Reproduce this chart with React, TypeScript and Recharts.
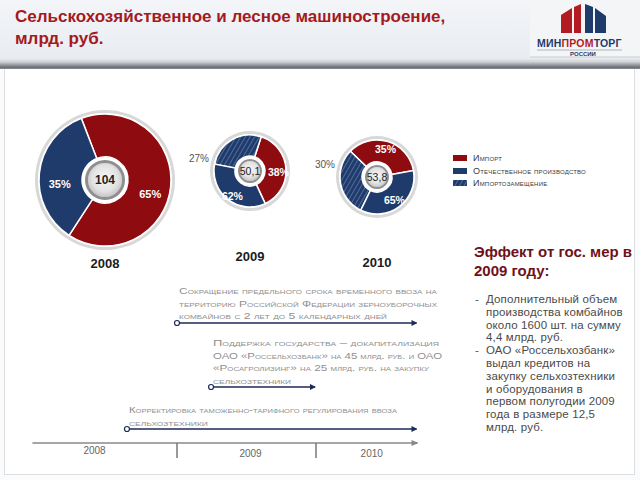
import React from "react";
import { PieChart, Pie, Cell } from "recharts";

// доли в процентах по годам
const years = ["2008", "2009", "2010"];
const importShare = [65, 38, 35];
const domesticShare = [35, 62, 65];
const substitutionShare = [0, 27, 30];
const totals = ["104", "50,1", "53,8"];

const legendItems = ["Импорт", "Отечественное производство", "Импортозамещение"];

// таймлайн мер господдержки
const timelineYears = [2008, 2009, 2010];
const timelineRange = [2007.96, 2010.73];
const measureStart = [2009.0, 2009.245, 2008.64];
const measureEnd = [2010.73, 2010.0, 2010.73];
const measureText = [
  [
    "Сокращение предельного срока временного ввоза на",
    "территорию Российской Федерации зерноуборочных",
    "комбайнов с 2 лет до 5 календарных дней",
  ],
  [
    "Поддержка государства – докапитализация",
    "ОАО «Россельхозбанк» на 45 млрд. руб. и ОАО",
    "«Росагролизинг» на 25 млрд. руб. на закупку",
    "сельхозтехники",
  ],
  [
    "Корректировка таможенно-тарифного регулирования ввоза",
    "сельхозтехники",
  ],
];

const effectBullets = [
  ["Дополнительный объем", "производства комбайнов", "около 1600 шт. на сумму", "4,4 млрд. руб."],
  [
    "ОАО «Россельхозбанк»",
    "выдал кредитов на",
    "закупку сельхозтехники",
    "и оборудования в",
    "первом полугодии 2009",
    "года в размере 12,5",
    "млрд. руб.",
  ],
];

const RED = "#8e0b0f";
const NAVY = "#1f3b6b";
const FONT = "'Liberation Sans', Arial, sans-serif";
const ring = [{ value: 1 }];

const donuts = [
  { left: 30, top: 105, w: 150, h: 150, r: 66, hub: 20, start: -123, fs: 11, dy: 9, push: 1, yearTop: 256 },
  { left: 180, top: 121, w: 140, h: 100, r: 36, hub: 12, start: -65, fs: 10.5, dy: 3, push: 3, yearTop: 249 },
  { left: 307, top: 127, w: 140, h: 100, r: 37, hub: 12, start: 10, fs: 10.5, dy: 0, push: 3, yearTop: 255 },
];

const fills: Record<string, string> = { imp: RED, dom: NAVY, sub: "url(#hatch)" };

function sliceData(i: number) {
  return [
    { kind: "imp", value: importShare[i], label: `${importShare[i]}%` },
    { kind: "sub", value: substitutionShare[i], label: `${substitutionShare[i]}%` },
    { kind: "dom", value: domesticShare[i] - substitutionShare[i], label: `${domesticShare[i]}%` },
  ].filter((d) => d.value > 0);
}

const sliceLabel = (fs: number, dy: number, push: number) => (props: any) => {
  const { cx, cy, midAngle, innerRadius, outerRadius } = props;
  const entry = props.payload ?? props;
  if (entry.kind === "sub") {
    return (
      <text x={cx - outerRadius - 5} y={cy - 13} textAnchor="end" dominantBaseline="central"
        fontSize={10} fill="#555" fontFamily={FONT}>
        {entry.label}
      </text>
    );
  }
  const rad = Math.PI / 180;
  const r = (innerRadius + outerRadius) / 2 + push;
  const x = cx + r * Math.cos(-midAngle * rad);
  const y = cy + r * Math.sin(-midAngle * rad) + dy;
  return (
    <text x={x} y={y} textAnchor="middle" dominantBaseline="central" fontSize={fs}
      fontWeight={700} fill="#fff" fontFamily={FONT}>
      {entry.label}
    </text>
  );
};

const hubLabel = (text: string, fs: number, bold: boolean) => (props: any) => (
  <text x={props.cx} y={props.cy} textAnchor="middle" dominantBaseline="central"
    fontSize={fs} fontWeight={bold ? 700 : 400} fill="#222" fontFamily={FONT}>
    {text}
  </text>
);

function Donut({ i }: { i: number }) {
  const d = donuts[i];
  const inner = d.hub + 3;
  const edge = i === 0 ? 3 : 2;
  const slices = sliceData(i);
  return (
    <div style={{ position: "absolute", left: d.left, top: d.top }}>
      <PieChart width={d.w} height={d.h} margin={{ top: 0, right: 0, bottom: 0, left: 0 }}>
        <Pie data={ring} dataKey="value" cx="50%" cy="50%" innerRadius={d.r + 1} outerRadius={d.r + 4}
          fill="#d8d8d8" stroke="none" isAnimationActive={false} />
        <Pie data={slices} dataKey="value" cx="50%" cy="50%" innerRadius={inner} outerRadius={d.r}
          startAngle={d.start} endAngle={d.start + 360} stroke="#fff" strokeWidth={1.5}
          labelLine={false} label={sliceLabel(d.fs, d.dy, d.push)} isAnimationActive={false}>
          {slices.map((s) => (
            <Cell key={s.kind} fill={fills[s.kind]} />
          ))}
        </Pie>
        <Pie data={ring} dataKey="value" cx="50%" cy="50%" innerRadius={0} outerRadius={d.hub - edge}
          fill="url(#hubGrad)" stroke="none"
          labelLine={false} label={hubLabel(totals[i], i === 0 ? 12 : 10.5, i === 0)} isAnimationActive={false} />
        <Pie data={ring} dataKey="value" cx="50%" cy="50%" innerRadius={d.hub - edge} outerRadius={d.hub}
          fill="#8f8f8f" stroke="none" isAnimationActive={false} />
      </PieChart>
      <div style={{ position: "absolute", left: 0, width: d.w, top: d.yearTop - d.top, textAlign: "center",
        fontSize: 13, fontWeight: 700, color: "#1c1c1c", fontFamily: FONT }}>
        {years[i]}
      </div>
    </div>
  );
}

// x на таймлайне
const tx = (y: number) => 177 + (y - 2009) * 139;

function Timeline() {
  const navy = "#1d2b57";
  const blockY = [291, 343, 410];
  const arrowY = [323, 387, 429];
  const widths = [
    [258, 258, 208],
    [226, 229, 216, 78],
    [268, 79],
  ];
  const yearShift = [-13, 4, 5];
  const axisY = 443;
  return (
    <svg width={640} height={480} style={{ position: "absolute", left: 0, top: 0 }}>
      <defs>
        <marker id="arrN" markerWidth="6" markerHeight="6" refX="5" refY="3" orient="auto" markerUnits="userSpaceOnUse">
          <path d="M0,0 L6,3 L0,6 z" fill={navy} />
        </marker>
        <marker id="arrG" markerWidth="7" markerHeight="6" refX="6" refY="3" orient="auto" markerUnits="userSpaceOnUse">
          <path d="M0,0 L7,3 L0,6 z" fill="#888" />
        </marker>
      </defs>
      {measureText.map((lines, m) => (
        <g key={m}>
          {lines.map((ln, k) => (
            <text key={k} x={tx(measureStart[m]) + 2} y={blockY[m] + k * 12.5 + 3} fontSize={9}
              fill="#8f8f8f" fontFamily={FONT} style={{ fontVariant: "small-caps" }}
              textLength={widths[m][k]} lengthAdjust="spacingAndGlyphs">
              {ln}
            </text>
          ))}
          <line x1={tx(measureStart[m])} x2={tx(measureEnd[m]) - 1} y1={arrowY[m]} y2={arrowY[m]}
            stroke={navy} strokeWidth={1.6} markerEnd="url(#arrN)" />
          <circle cx={tx(measureStart[m])} cy={arrowY[m]} r={2.5} fill="#fff" stroke={navy} strokeWidth={1.2} />
        </g>
      ))}
      <line x1={tx(timelineRange[0])} x2={tx(timelineRange[1])} y1={axisY} y2={axisY}
        stroke="#888" strokeWidth={1.4} markerEnd="url(#arrG)" />
      {timelineYears.map((y, k) => {
        const a = Math.max(y, timelineRange[0]);
        const b = Math.min(y + 1, timelineRange[1]);
        return (
          <g key={y}>
            {y > timelineRange[0] + 0.5 && (
              <line x1={tx(y)} x2={tx(y)} y1={axisY} y2={axisY + 15} stroke="#777" strokeWidth={1.5} />
            )}
            <text x={(tx(a) + tx(b)) / 2 + yearShift[k]} y={axisY + 14 + (k === 0 ? -3 : 0)} textAnchor="middle"
              fontSize={10} fill="#666" fontFamily={FONT}>
              {y}
            </text>
          </g>
        );
      })}
    </svg>
  );
}

function Logo() {
  return (
    <svg width={110} height={60} style={{ position: "absolute", left: 530, top: 0 }}>
      <rect x={0} y={0} width={110} height={57} fill="#f4f5f7" />
      <line x1={0} x2={110} y1={57} y2={57} stroke="#c8ccd2" />
      <polygon points="31,15 42,8 42,33 31,33" fill="#b31b22" />
      <polygon points="44,7 51,4 51,33 44,33" fill="#b31b22" />
      <polygon points="55,4 63,7 63,33 55,33" fill="#1f3b6b" />
      <polygon points="65,8 76,16 76,33 65,33" fill="#1f3b6b" />
      <text x={7} y={47} fontSize={10.5} fontWeight={700} fontFamily={FONT} fill="#1f3b6b" letterSpacing={0.2}>
        МИН<tspan fill="#b31b22">ПРОМ</tspan>ТОРГ
      </text>
      <line x1={7} x2={92} y1={50} y2={50} stroke="#9aa3ad" strokeWidth={0.8} />
      <text x={53} y={56} fontSize={6} fontWeight={700} fontFamily={FONT} fill="#1f3b6b" textAnchor="middle">
        РОССИИ
      </text>
    </svg>
  );
}

export default function App() {
  return (
    <div style={{ position: "absolute", left: 0, top: 0, width: 640, height: 480, overflow: "hidden",
      background: "#fafbfc", fontFamily: FONT }}>
      <svg width={0} height={0} style={{ position: "absolute" }}>
        <defs>
          <pattern id="hatch" patternUnits="userSpaceOnUse" width={4} height={4} patternTransform="rotate(30)">
            <rect width={4} height={4} fill={NAVY} />
            <line x1={0} y1={0} x2={0} y2={4} stroke="#7d95bd" strokeWidth={1.1} />
          </pattern>
          <radialGradient id="hubGrad" cx="50%" cy="45%" r="55%">
            <stop offset="0%" stopColor="#f7f7f7" />
            <stop offset="70%" stopColor="#e2e2e2" />
            <stop offset="100%" stopColor="#c4c4c4" />
          </radialGradient>
        </defs>
      </svg>

      {/* шапка */}
      <div style={{ position: "absolute", left: 0, top: 0, width: 640, height: 58,
        background: "linear-gradient(#f3f5f8, #e9ecf1)" }} />
      <div style={{ position: "absolute", left: 0, top: 58, width: 640, height: 11,
        background: "linear-gradient(#eceef1 0%, #cfd2d6 35%, #6a6e75 85%, #8c9096 100%)" }} />
      <div style={{ position: "absolute", left: 15, top: 6, fontSize: 17, fontWeight: 700, lineHeight: "22px",
        color: "#a31a20" }}>
        Сельскохозяйственное и лесное машиностроение,
        <br />
        млрд. руб.
      </div>
      <Logo />

      {/* рабочая область */}
      <div style={{ position: "absolute", left: 4, top: 69, width: 629, height: 405, background: "#fff",
        border: "1px solid #dedede", borderTop: "none" }} />

      {[0, 1, 2].map((i) => (
        <Donut key={i} i={i} />
      ))}

      {/* легенда */}
      <div style={{ position: "absolute", left: 453, top: 152 }}>
        {legendItems.map((t, k) => (
          <div key={t} style={{ display: "flex", alignItems: "center", height: 12.5 }}>
            <svg width={14} height={6} style={{ marginRight: 6 }}>
              <rect width={14} height={6} fill={[RED, NAVY, "url(#hatch)"][k]} />
            </svg>
            <span style={{ fontSize: 9, color: "#3a3a3a", fontVariant: "small-caps", letterSpacing: 0.2 }}>{t}</span>
          </div>
        ))}
      </div>

      <Timeline />

      {/* эффект от мер */}
      <div style={{ position: "absolute", left: 474, top: 242, width: 162 }}>
        <div style={{ fontSize: 15, fontWeight: 700, color: "#6e1119", lineHeight: "19px" }}>
          Эффект от гос. мер в
          <br />
          2009 году:
        </div>
        <div style={{ marginTop: 13 }}>
          {effectBullets.map((lines, b) => (
            <div key={b} style={{ position: "relative", paddingLeft: 12 }}>
              <span style={{ position: "absolute", left: 1, top: 0, fontSize: 11.5, color: "#555" }}>-</span>
              {lines.map((ln) => (
                <div key={ln} style={{ fontSize: 11.5, lineHeight: "12.8px", color: "#4a4a4a", letterSpacing: 0.15 }}>
                  {ln}
                </div>
              ))}
            </div>
          ))}
        </div>
      </div>
    </div>
  );
}
